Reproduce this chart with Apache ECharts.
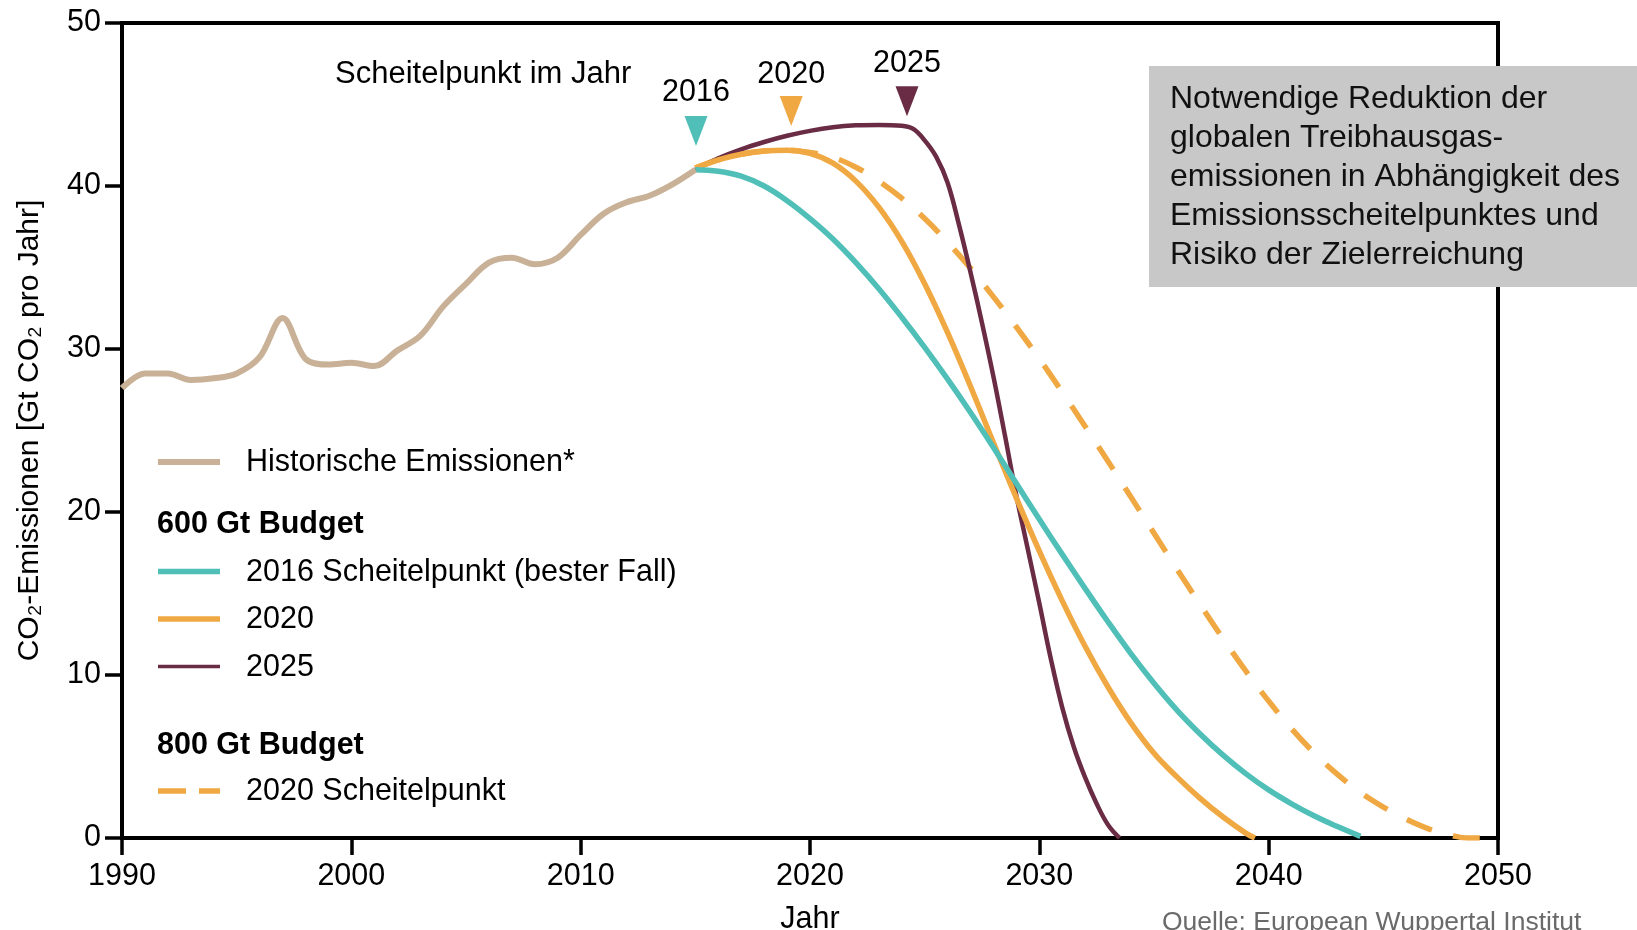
<!DOCTYPE html>
<html><head><meta charset="utf-8">
<script src="https://cdn.jsdelivr.net/npm/echarts@6/dist/echarts.min.js"></script>
<style>html,body{margin:0;padding:0;background:#fff}#c{width:1637px;height:930px}</style>
</head><body><div id="c"></div>
<script>
// ---- Data ----
const histYears  = [1990,1991,1992,1993,1994,1995,1996,1997,1998,1999,2000,2001,2002,2003,2004,2005,2006,2007,2008,2009,2010,2011,2012,2013,2014,2015];
const histValues = [27.6,28.5,28.5,28.1,28.2,28.5,29.5,31.9,29.4,29.05,29.15,28.95,29.9,30.8,32.6,34.0,35.3,35.6,35.2,35.6,37.0,38.3,39.0,39.4,40.1,41.0];

const peak2016Years  = [2015,2016,2017,2018,2019,2020,2021,2022,2023,2024,2025,2026,2027,2028,2029,2030,2031,2032,2033,2034,2035,2036,2037,2038,2039,2040,2041,2042,2043,2044];
const peak2016Values = [41.0,40.9,40.6,40.0,39.1,38.0,36.75,35.3,33.7,31.95,30.1,28.15,26.1,23.95,21.75,19.55,17.4,15.3,13.25,11.3,9.5,7.85,6.4,5.1,3.95,2.95,2.1,1.35,0.7,0.1];

const peak2020Years  = [2015,2016,2017,2018,2019,2020,2021,2022,2023,2024,2025,2026,2027,2028,2029,2030,2031,2032,2033,2034,2035,2036,2037,2038,2039,2039.4];
const peak2020Values = [41.1,41.6,41.95,42.15,42.2,42.0,41.4,40.3,38.7,36.6,34.0,31.0,27.7,24.25,20.85,17.6,14.55,11.75,9.25,7.05,5.2,3.75,2.45,1.3,0.3,0.0];

const peak2025Years  = [2015,2016,2017,2018,2019,2020,2021,2022,2023,2024,2024.5,2025,2025.5,2026,2026.5,2027,2027.5,2028,2028.5,2029,2029.5,2030,2030.5,2031,2031.5,2032,2032.5,2033,2033.5];
const peak2025Values = [41.0,41.7,42.25,42.7,43.08,43.38,43.6,43.72,43.75,43.7,43.5,42.8,41.8,40.2,37.6,34.7,31.6,28.3,24.7,21.0,17.7,14.4,11.0,8.0,5.6,3.7,2.1,0.8,0.0];

const budget800Years  = [2015,2016,2017,2018,2019,2020,2021,2022,2023,2024,2025,2026,2027,2028,2029,2030,2031,2032,2033,2034,2035,2036,2037,2038,2039,2040,2041,2042,2043,2044,2045,2046,2047,2048,2048.7,2050];
const budget800Values = [41.1,41.6,41.95,42.15,42.2,42.05,41.75,41.15,40.3,39.25,38.0,36.55,34.95,33.2,31.35,29.4,27.35,25.25,23.1,20.9,18.7,16.5,14.35,12.25,10.25,8.4,6.7,5.2,3.9,2.8,1.9,1.15,0.55,0.15,0.0,0.0];

const peakMarkerYears  = [2015.03, 2019.18, 2024.23];
const peakMarkerValues = [43.38, 44.6, 45.2];
const peakMarkerLabels = ['2016', '2020', '2025'];

const xTicks = { min: 1990, max: 2050, step: 10 };
const yTicks = { min: 0, max: 50, step: 10 };

// ---- Styles ----
const FONT = '"Liberation Sans", Arial, Helvetica, sans-serif';
const C_HIST = '#c8b196', C_TEAL = '#4fbfb8', C_ORANGE = '#f0a843', C_PURPLE = '#6a2c44';
const markerColors = [C_TEAL, C_ORANGE, C_PURPLE];
const markerLabelDist = [8, 6, 7];

const pairs = (xs, ys) => xs.map((x, i) => [x, ys[i]]);

const chart = echarts.init(document.getElementById('c'), null, { renderer: 'canvas' });

function legendLine(y, color, width, dash) {
  return { type: 'line', z: 100, shape: { x1: 158, y1: y, x2: 220, y2: y },
    style: { stroke: color, lineWidth: width, lineDash: dash || null } };
}
function legendText(x, y, text, bold) {
  return { type: 'text', z: 100, x: x, y: y,
    style: { text: text, fill: '#000', font: (bold ? 'bold ' : '') + '30.5px ' + FONT, verticalAlign: 'middle', align: 'left' } };
}

const option = {
  animation: false,
  backgroundColor: '#fff',
  grid: { left: 122, right: 139, top: 23, bottom: 92, show: true, borderColor: '#000', borderWidth: 4,
    backgroundColor: 'transparent', containLabel: false, outerBoundsMode: 'none' },
  xAxis: {
    type: 'value', min: xTicks.min, max: xTicks.max, interval: xTicks.step,
    name: 'Jahr', nameLocation: 'middle', nameGap: 66,
    nameTextStyle: { fontFamily: FONT, fontSize: 30.5, color: '#000' },
    axisLine: { show: true, lineStyle: { color: '#000', width: 4 } },
    axisTick: { show: true, length: 17, lineStyle: { color: '#000', width: 3.5 } },
    axisLabel: { fontFamily: FONT, fontSize: 30.5, color: '#000', margin: 23, showMinLabel: true, showMaxLabel: true,
      formatter: v => String(v) },
    splitLine: { show: false }
  },
  yAxis: {
    type: 'value', min: yTicks.min, max: yTicks.max, interval: yTicks.step,
    name: 'CO₂-Emissionen [Gt CO₂ pro Jahr]', nameLocation: 'middle', nameGap: 77,
    nameTextStyle: { fontFamily: FONT, fontSize: 30, color: '#000' },
    axisLine: { show: true, lineStyle: { color: '#000', width: 4 } },
    axisTick: { show: true, length: 17, lineStyle: { color: '#000', width: 3.5 } },
    axisLabel: { fontFamily: FONT, fontSize: 30.5, color: '#000', margin: 21, formatter: v => String(v) },
    splitLine: { show: false }
  },
  series: [
    { name: '800 Gt 2020', type: 'line', data: pairs(budget800Years, budget800Values), smooth: 0.4, showSymbol: false,
      lineStyle: { color: C_ORANGE, width: 5.5, type: [27, 22], cap: 'butt' }, z: 3 },
    { name: '2025', type: 'line', data: pairs(peak2025Years, peak2025Values), smooth: 0.4, showSymbol: false,
      lineStyle: { color: C_PURPLE, width: 4.5 }, z: 4 },
    { name: '2020', type: 'line', data: pairs(peak2020Years, peak2020Values), smooth: 0.4, showSymbol: false,
      lineStyle: { color: C_ORANGE, width: 5.5 }, z: 5 },
    { name: '2016', type: 'line', data: pairs(peak2016Years, peak2016Values), smooth: 0.4, showSymbol: false,
      lineStyle: { color: C_TEAL, width: 5.5 }, z: 6 },
    { name: 'Historisch', type: 'line', data: pairs(histYears, histValues), smooth: 0.35, showSymbol: false,
      lineStyle: { color: C_HIST, width: 6 }, z: 7 },
    { name: 'Scheitelpunkte', type: 'scatter', z: 8,
      symbol: 'path://M0,0L20,0L10,26Z', symbolSize: [23, 30],
      itemStyle: { opacity: 1 },
      data: peakMarkerYears.map((x, i) => ({
        value: [x, peakMarkerValues[i]], name: peakMarkerLabels[i],
        itemStyle: { color: markerColors[i], opacity: 1 },
        label: { distance: markerLabelDist[i] }
      })),
      label: { show: true, position: 'top', formatter: p => p.name, fontFamily: FONT, fontSize: 30.5, color: '#000' }
    }
  ],
  graphic: [
    { type: 'text', z: 100, x: 335, y: 74,
      style: { text: 'Scheitelpunkt im Jahr', fill: '#000', font: '31px ' + FONT, verticalAlign: 'middle' } },
    { type: 'rect', z: 100, shape: { x: 1149, y: 66, width: 520, height: 221 }, style: { fill: '#c8c8c8' } },
    { type: 'text', z: 101, x: 1170, y: 80,
      style: { text: 'Notwendige Reduktion der\nglobalen Treibhausgas-\nemissionen in Abhängigkeit des\nEmissionsscheitelpunktes und\nRisiko der Zielerreichung',
        fill: '#111', font: '32px ' + FONT, lineHeight: 39, verticalAlign: 'top' } },
    legendLine(462, C_HIST, 6),
    legendText(246, 463, 'Historische Emissionen*'),
    legendText(157, 525, '600 Gt Budget', true),
    legendLine(571.5, C_TEAL, 5.5),
    legendText(246, 573, '2016 Scheitelpunkt (bester Fall)'),
    legendLine(619, C_ORANGE, 5.5),
    legendText(246, 620, '2020'),
    legendLine(666.5, C_PURPLE, 3.5),
    legendText(246, 668, '2025'),
    legendText(157, 746, '800 Gt Budget', true),
    legendLine(791, C_ORANGE, 5.5, [28, 13]),
    legendText(246, 792, '2020 Scheitelpunkt'),
    { type: 'text', z: 100, x: 1162, y: 936,
      style: { text: 'Quelle: European Wuppertal Institut', fill: '#6a6a6a', font: '26.5px ' + FONT, verticalAlign: 'bottom' } }
  ]
};
chart.setOption(option);
</script></body></html>
